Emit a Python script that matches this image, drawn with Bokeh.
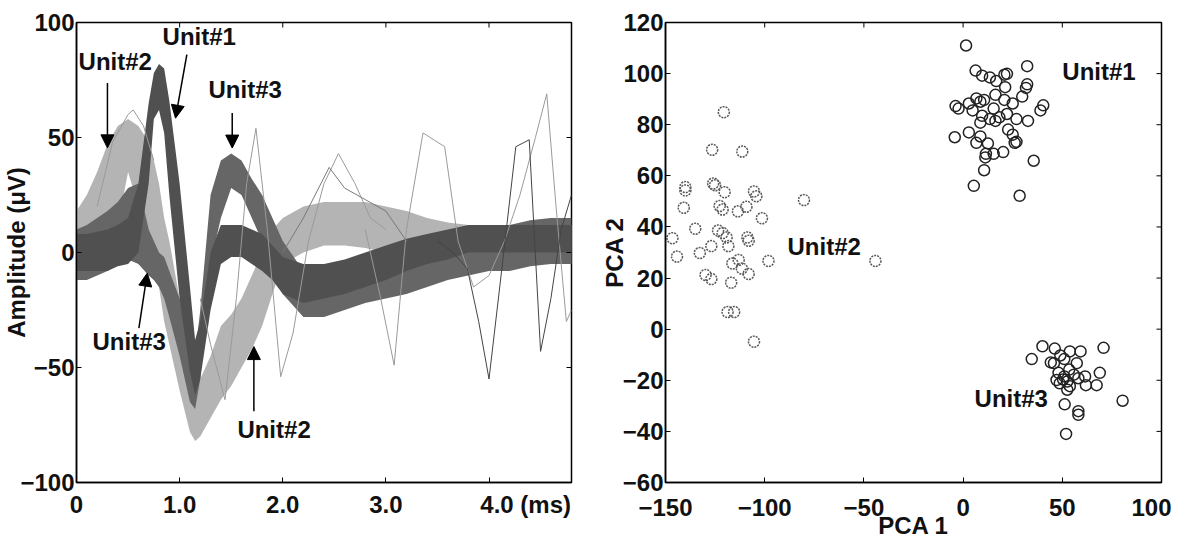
import math
from bokeh.plotting import figure
from bokeh.models import Range1d, Label, Arrow, NormalHead, FixedTicker
from bokeh.layouts import row
from bokeh.embed import file_html
from bokeh.resources import INLINE

# ---------------- data: spike waveforms (band envelopes) ----------------
T = [0.0, 0.1, 0.2, 0.3, 0.4, 0.5, 0.6, 0.7, 0.75, 0.8, 0.85, 0.9, 1.0, 1.1, 1.15, 1.2,
     1.3, 1.4, 1.5, 1.6, 1.7, 1.8, 1.9, 2.0, 2.2, 2.4, 2.6, 2.8, 3.0, 3.2, 3.4, 3.6,
     3.8, 4.0, 4.2, 4.4, 4.6, 4.8]

# Unit#2 (light grey)
U2_LO = [-8, -5, 0, 5, 12, 35, 20, 0, -5, -15, -30, -40, -60, -78, -82, -80,
         -72, -64, -58, -50, -42, -32, -18, -5, 0, 3, 3, 2, 0, -2, -3, -5,
         -5, -5, -5, -5, -5, -5]
U2_HI = [18, 25, 35, 47, 55, 58, 55, 48, 40, 30, 15, 5, -20, -40, -50, -55,
         -45, -32, -27, -20, -10, 0, 10, 15, 20, 22, 22, 22, 20, 18, 15, 13,
         12, 12, 12, 12, 12, 12]

# Unit#3 (medium grey)
U3_LO = [-12, -12, -10, -8, -5, -3, -5, -10, -12, -15, -20, -28, -45, -65, -68, -55,
         -5, 15, 28, 25, 15, 5, -8, -18, -28, -28, -25, -22, -20, -18, -15, -12,
         -10, -8, -8, -6, -5, -5]
U3_HI = [10, 12, 15, 18, 22, 28, 30, 10, 5, 0, -2, -8, -20, -40, -45, -25,
         25, 40, 43, 40, 32, 25, 15, 5, -8, -8, -6, -4, -2, 0, 2, 5,
         8, 10, 12, 14, 15, 15]

# Unit#1 (dark grey)
U1_LO = [-8, -8, -8, -8, -6, -5, 0, 30, 58, 62, 52, 25, -20, -52, -62, -55,
         -25, -5, -2, -2, -5, -8, -12, -18, -22, -20, -18, -15, -12, -8, -5, -3,
         0, 0, 0, 0, 0, 0]
U1_HI = [8, 8, 9, 10, 12, 15, 30, 65, 78, 82, 80, 66, 30, -15, -38, -30,
         0, 12, 12, 12, 10, 8, 3, -2, -5, -5, -3, 0, 3, 6, 8, 10,
         12, 12, 12, 12, 12, 12]

# individual outlier traces
O1_T = [1.2, 1.3, 1.44, 1.55, 1.65, 1.74, 1.85, 1.98, 2.1, 2.25, 2.4, 2.54, 2.7, 2.85, 3.0]
O1_V = [-20, -40, -64, -20, 30, 54, 10, -54, -35, 5, 30, 43, 30, 15, 10]
O2_T = [2.8, 2.95, 3.08, 3.2, 3.36, 3.5, 3.57, 3.7, 3.85, 4.0, 4.15, 4.3, 4.45, 4.56, 4.65, 4.75, 4.8]
O2_V = [10, -20, -49, 10, 52, 48, 46, 5, -15, -10, 5, 25, 50, 69, 20, -30, -25]
O3_T = [3.5, 3.65, 3.79, 3.9, 4.0, 4.13, 4.26, 4.39, 4.5, 4.6, 4.7, 4.8]
O3_V = [5, 0, -7, -30, -55, -5, 46, 49, -43, -20, 10, 25]
O4_T = [2.0, 2.2, 2.45, 2.6, 2.8, 3.0, 3.2]
O4_V = [0, 15, 37, 28, 23, 18, 5]
O5_T = [0.2, 0.35, 0.5, 0.55, 0.65, 0.75]
O5_V = [20, 48, 60, 62, 55, 40]

# ---------------- data: PCA scatter ----------------
PC1_U1 = [1.5, 6.3, 9.6, 13.5, 16.7, 20.8, 22.1, 32.3, 32.3, 31.7, 29.8, 21.2, 16.3, 20.8,
          25.0, 40.4, 39.0, -3.8, -2.3, 2.9, 6.7, 8.7, 10.6, 4.8, 9.6, 15.4, 13.5, 16.3,
          18.3, 22.1, 26.9, 32.7, 8.7, 22.7, 25.0, -4.2, 2.9, 8.7, 6.7, 12.5, 11.5, 15.4,
          20.2, 26.9, 26.0, 35.6, 10.6, 5.4, 28.5, 11.2]
PC2_U1 = [111, 101.2, 99.2, 98.5, 97.1, 99.6, 99.9, 102.9, 95.8, 94.4, 91.0, 94.7, 91.7, 89.7,
          88.3, 87.6, 85.6, 87.3, 86.3, 88.3, 90.3, 89.0, 89.7, 85.6, 83.5, 86.3, 82.2, 81.5,
          82.9, 84.2, 82.2, 81.5, 80.8, 78.1, 76.1, 75.1, 77.0, 75.4, 72.9, 72.7, 68.6, 68.6,
          69.3, 73.3, 72.9, 65.9, 62.2, 56.1, 52.2, 67.2]

PC1_U2 = [-120.6, -126.5, -111.3, -126.0, -125.0, -140.0, -140.0, -120.2, -105.4, -104.2,
          -80.2, -140.8, -122.7, -121.2, -113.5, -109.2, -101.4, -135.0, -123.5, -121.2,
          -119.2, -118.3, -146.5, -144.2, -132.7, -126.9, -108.7, -108.1, -98.1, -44.2,
          -116.3, -113.1, -111.5, -108.1, -129.8, -126.9, -116.9, -118.7, -115.4, -105.4]
PC2_U2 = [84.9, 70.2, 69.5, 57.0, 56.3, 55.6, 54.3, 53.6, 53.9, 52.0,
          50.5, 47.5, 48.2, 46.8, 46.1, 47.9, 43.4, 39.3, 38.6, 37.6,
          35.9, 32.5, 35.6, 28.4, 29.8, 32.5, 35.9, 34.6, 26.7, 26.7,
          25.7, 27.1, 23.7, 21.6, 21.2, 19.6, 18.2, 6.7, 6.7, -4.9]

PC1_U3 = [40.0, 46.2, 53.8, 59.2, 70.8, 34.6, 49.0, 51.0, 45.8, 57.3, 53.5, 48.1, 51.0,
          55.8, 58.1, 61.5, 68.9, 52.5, 48.7, 53.8, 61.9, 67.3, 50.4, 52.5, 51.2, 58.1,
          58.1, 80.4, 51.9, 47.1, 44.2]
PC2_U3 = [-6.7, -7.6, -8.7, -8.7, -7.3, -11.7, -10.3, -11.7, -13.3, -13.3, -15.8, -17.1, -18.5,
          -17.8, -19.2, -18.5, -17.1, -20.5, -21.2, -22.3, -21.9, -21.9, -19.7, -23.7, -29.4, -32.1,
          -33.5, -28.0, -41.0, -19.9, -13.0]

LEFT_XTICKS = [0, 1, 2, 3, 4]
LEFT_XLABELS = ["0", "1.0", "2.0", "3.0", "\u00a0" * 11 + "4.0 (ms)"]
LEFT_YTICKS = [-100, -50, 0, 50, 100]
RIGHT_XTICKS = [-150, -100, -50, 0, 50, 100]
RIGHT_YTICKS = [-60, -40, -20, 0, 20, 40, 60, 80, 100, 120]

FONT = "Liberation Sans"
FS = "24px"
INK = "#111111"


def style_main_axis(ax, ticks, standoff):
    ax.ticker = FixedTicker(ticks=ticks)
    ax.major_tick_in = 5
    ax.major_tick_out = 0
    ax.minor_tick_line_color = None
    ax.axis_line_color = "black"
    ax.axis_line_width = 1.5
    ax.major_tick_line_color = "black"
    ax.major_label_text_font = FONT
    ax.major_label_text_font_size = FS
    ax.major_label_text_font_style = "bold"
    ax.major_label_text_color = INK
    ax.major_label_standoff = standoff
    ax.axis_label_text_font = FONT
    ax.axis_label_text_font_size = FS
    ax.axis_label_text_font_style = "bold"
    ax.axis_label_text_color = INK


def mirror_ticks(p, xticks, yticks, ytop, xright):
    # inward tick marks on the top and right edges of the box
    p.ray(x=xticks, y=[ytop] * len(xticks), length=5, length_units="screen",
          angle=-math.pi / 2, line_color="black", line_width=1)
    p.ray(x=[xright] * len(yticks), y=yticks, length=5, length_units="screen",
          angle=math.pi, line_color="black", line_width=1)


def unit_label(p, x, y, text):
    p.add_layout(Label(x=x, y=y, text=text, text_font=FONT, text_font_size=FS,
                       text_font_style="bold", text_color=INK,
                       text_align="left", text_baseline="middle"))


def arrow(p, x0, y0, x1, y1):
    p.add_layout(Arrow(end=NormalHead(size=13, fill_color="black", line_color="black", line_width=1),
                       x_start=x0, y_start=y0, x_end=x1, y_end=y1,
                       line_color="black", line_width=1.5))


# ---------------- left figure ----------------
p1 = figure(frame_width=495, frame_height=460, x_range=Range1d(0, 4.8), y_range=Range1d(-100, 100),
            output_backend="svg", toolbar_location=None,
            min_border_left=76, min_border_right=12, min_border_top=22, min_border_bottom=58,
            y_axis_label="Amplitude (μV)")
p1.grid.visible = False
p1.outline_line_color = "black"
p1.outline_line_width = 1.5
style_main_axis(p1.xaxis[0], LEFT_XTICKS, 8)
p1.xaxis[0].major_label_overrides = {t: s for t, s in zip(LEFT_XTICKS, LEFT_XLABELS)}
style_main_axis(p1.yaxis[0], LEFT_YTICKS, 2)
p1.yaxis[0].axis_label_standoff = -13

p1.varea(x=T, y1=U2_LO, y2=U2_HI, fill_color="#b4b4b4")
p1.varea(x=T, y1=U3_LO, y2=U3_HI, fill_color="#666666")
p1.varea(x=T, y1=U1_LO, y2=U1_HI, fill_color="#505050")
p1.line(O1_T, O1_V, line_color="#9a9a9a", line_width=1)
p1.line(O2_T, O2_V, line_color="#9a9a9a", line_width=1)
p1.line(O3_T, O3_V, line_color="#444444", line_width=1)
p1.line(O4_T, O4_V, line_color="#7a7a7a", line_width=1)
p1.line(O5_T, O5_V, line_color="#9a9a9a", line_width=1)
mirror_ticks(p1, LEFT_XTICKS, LEFT_YTICKS, 100, 4.8)

unit_label(p1, 0.02, 83, "Unit#2")
unit_label(p1, 0.835, 94, "Unit#1")
unit_label(p1, 1.28, 70.7, "Unit#3")
unit_label(p1, 0.155, -38.8, "Unit#3")
unit_label(p1, 1.56, -77, "Unit#2")

arrow(p1, 0.30, 73.7, 0.30, 45.5)
arrow(p1, 1.07, 86, 0.96, 58.4)
arrow(p1, 1.51, 60.7, 1.51, 45.4)
arrow(p1, 0.605, -32.9, 0.686, -9)
arrow(p1, 1.72, -69, 1.72, -40.9)

# ---------------- right figure ----------------
p2 = figure(frame_width=496, frame_height=460, x_range=Range1d(-150, 100), y_range=Range1d(-60, 120),
            output_backend="svg", toolbar_location=None,
            min_border_left=82, min_border_right=10, min_border_top=22, min_border_bottom=10,
            x_axis_label="PCA 1", y_axis_label="PCA 2")
p2.grid.visible = False
p2.outline_line_color = "black"
p2.outline_line_width = 1.5
style_main_axis(p2.xaxis[0], RIGHT_XTICKS, 16)
p2.xaxis[0].axis_label_standoff = -7
style_main_axis(p2.yaxis[0], RIGHT_YTICKS, 2)
p2.yaxis[0].axis_label_standoff = -8
mirror_ticks(p2, RIGHT_XTICKS, RIGHT_YTICKS, 120, 100)

p2.scatter(PC1_U2, PC2_U2, marker="circle", size=11, fill_color=None,
           line_color="#5a5a5a", line_width=1.5, line_dash="2 1")
p2.scatter(PC1_U1, PC2_U1, marker="circle", size=11, fill_color=None,
           line_color="#222222", line_width=1.5)
p2.scatter(PC1_U3, PC2_U3, marker="circle", size=11, fill_color=None,
           line_color="#222222", line_width=1.5)

unit_label(p2, 50, 101, "Unit#1")
unit_label(p2, -88.5, 32.5, "Unit#2")
unit_label(p2, 5.8, -27.3, "Unit#3")

layout = row(p1, p2)
open("out.html", "w").write(file_html(layout, INLINE))
